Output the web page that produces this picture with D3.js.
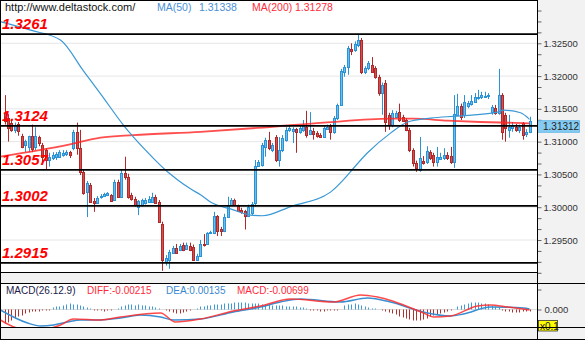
<!DOCTYPE html>
<html><head><meta charset="utf-8">
<script src="https://cdn.jsdelivr.net/npm/d3@7"></script>
<style>
html,body{margin:0;padding:0;background:#fff;}
svg{display:block;font-family:"Liberation Sans",Arial,sans-serif;}
</style></head><body>
<svg id="c" width="585" height="340"></svg>
<script>
// ---------- DATA ----------
const opens=[1.3144,1.3136,1.3129,1.3118,1.3127,1.3109,1.3095,1.3092,1.3109,1.3092,
1.3107,1.3095,1.3087,1.3072,1.3075,1.3077,1.3077,1.3080,1.3081,1.3084,
1.3090,1.3115,1.3090,1.3054,1.3023,1.3034,1.3010,1.3007,1.3016,1.3017,
1.3019,1.3019,1.3011,1.3039,1.3016,1.3052,1.3046,1.3019,1.3013,1.3001,
1.3004,1.3007,1.3008,1.3008,1.3016,1.3008,1.2975,1.2917,1.2920,1.2930,
1.2938,1.2935,1.2943,1.2937,1.2941,1.2940,1.2920,1.2926,1.2944,1.2944,
1.2961,1.2961,1.2987,1.2967,1.2964,1.2985,1.3004,1.3011,1.3002,1.2996,
1.2994,1.2987,1.2991,1.3007,1.3063,1.3065,1.3092,1.3103,1.3087,1.3107,
1.3072,1.3087,1.3103,1.3118,1.3116,1.3119,1.3115,1.3118,1.3122,1.3112,
1.3116,1.3113,1.3110,1.3107,1.3119,1.3124,1.3115,1.3136,1.3156,1.3206,
1.3214,1.3241,1.3240,1.3247,1.3255,1.3206,1.3212,1.3217,1.3212,1.3199,
1.3174,1.3190,1.3141,1.3126,1.3138,1.3145,1.3138,1.3133,1.3118,1.3087,
1.3068,1.3057,1.3071,1.3069,1.3084,1.3080,1.3069,1.3074,1.3075,1.3080,
1.3078,1.3069,1.3141,1.3155,1.3141,1.3155,1.3158,1.3161,1.3167,1.3168,
1.3168,1.3170,1.3145,1.3151,1.3144,1.3171,1.3141,1.3118,1.3121,1.3122,
1.3118,1.3129,1.3112,1.3115];
const highs=[1.3171,1.3142,1.3133,1.3129,1.3130,1.3112,1.3103,1.3109,1.3126,1.3122,
1.3109,1.3098,1.3090,1.3083,1.3084,1.3084,1.3087,1.3087,1.3087,1.3086,
1.3118,1.3129,1.3118,1.3057,1.3040,1.3037,1.3014,1.3017,1.3020,1.3022,
1.3023,1.3020,1.3042,1.3042,1.3057,1.3077,1.3051,1.3022,1.3016,1.3011,
1.3013,1.3014,1.3017,1.3022,1.3019,1.3011,1.2978,1.2927,1.2935,1.2941,
1.2944,1.2944,1.2946,1.2946,1.2946,1.2943,1.2929,1.2950,1.2959,1.2962,
1.2964,1.2993,1.2988,1.2970,1.2990,1.3016,1.3014,1.3013,1.3004,1.2999,
1.2996,1.3004,1.3008,1.3072,1.3072,1.3098,1.3106,1.3115,1.3098,1.3110,
1.3107,1.3110,1.3122,1.3124,1.3122,1.3121,1.3124,1.3133,1.3147,1.3145,
1.3121,1.3116,1.3113,1.3124,1.3126,1.3127,1.3139,1.3158,1.3211,1.3217,
1.3246,1.3250,1.3253,1.3264,1.3258,1.3215,1.3223,1.3229,1.3215,1.3202,
1.3190,1.3194,1.3144,1.3148,1.3147,1.3158,1.3141,1.3136,1.3121,1.3090,
1.3071,1.3107,1.3078,1.3093,1.3087,1.3083,1.3092,1.3083,1.3090,1.3084,
1.3092,1.3171,1.3173,1.3158,1.3171,1.3162,1.3171,1.3174,1.3179,1.3176,
1.3176,1.3174,1.3156,1.3156,1.3211,1.3174,1.3144,1.3141,1.3130,1.3127,
1.3126,1.3130,1.3119,1.3138];
const lows=[1.3126,1.3100,1.3115,1.3113,1.3109,1.3090,1.3084,1.3084,1.3084,1.3087,
1.3093,1.3068,1.3057,1.3062,1.3072,1.3072,1.3075,1.3077,1.3078,1.3075,
1.3087,1.3080,1.3049,1.3019,1.2985,1.3007,1.2993,1.3005,1.3013,1.3016,
1.3017,1.3008,1.3010,1.3014,1.3014,1.3042,1.3013,1.3010,1.3001,1.2988,
1.3001,1.3004,1.3007,1.3007,1.3005,1.2976,1.2903,1.2911,1.2906,1.2929,
1.2929,1.2933,1.2933,1.2935,1.2933,1.2918,1.2918,1.2924,1.2940,1.2943,
1.2959,1.2959,1.2956,1.2956,1.2962,1.2984,1.3002,1.3002,1.2993,1.2990,
1.2966,1.2985,1.2988,1.3001,1.3062,1.3062,1.3077,1.3087,1.3084,1.3069,
1.3062,1.3084,1.3100,1.3115,1.3098,1.3083,1.3112,1.3115,1.3106,1.3110,
1.3103,1.3106,1.3106,1.3106,1.3118,1.3103,1.3112,1.3133,1.3155,1.3199,
1.3202,1.3232,1.3237,1.3244,1.3203,1.3203,1.3209,1.3205,1.3196,1.3170,
1.3141,1.3115,1.3118,1.3122,1.3136,1.3130,1.3130,1.3116,1.3084,1.3062,
1.3054,1.3054,1.3065,1.3066,1.3072,1.3062,1.3062,1.3072,1.3072,1.3072,
1.3066,1.3060,1.3139,1.3133,1.3136,1.3151,1.3155,1.3159,1.3164,1.3165,
1.3167,1.3165,1.3141,1.3141,1.3141,1.3103,1.3100,1.3106,1.3115,1.3115,
1.3113,1.3103,1.3107,1.3113];
const closes=[1.3132,1.3121,1.3118,1.3126,1.3116,1.3092,1.3101,1.3109,1.3089,1.3109,
1.3098,1.3077,1.3072,1.3077,1.3080,1.3081,1.3084,1.3083,1.3084,1.3080,
1.3115,1.3090,1.3054,1.3022,1.3037,1.3008,1.3007,1.3014,1.3017,1.3020,
1.3022,1.3010,1.3039,1.3016,1.3052,1.3046,1.3016,1.3013,1.3004,1.3010,
1.3011,1.3011,1.3013,1.3016,1.3007,1.2978,1.2920,1.2923,1.2932,1.2938,
1.2930,1.2941,1.2935,1.2943,1.2935,1.2920,1.2926,1.2944,1.2943,1.2961,
1.2962,1.2987,1.2964,1.2964,1.2985,1.3004,1.3011,1.3004,1.2994,1.2993,
1.2987,1.3001,1.3005,1.3063,1.3069,1.3095,1.3103,1.3090,1.3095,1.3072,
1.3087,1.3106,1.3118,1.3121,1.3119,1.3115,1.3121,1.3126,1.3110,1.3118,
1.3112,1.3109,1.3107,1.3121,1.3122,1.3115,1.3136,1.3156,1.3208,1.3214,
1.3243,1.3238,1.3249,1.3255,1.3206,1.3212,1.3220,1.3206,1.3199,1.3174,
1.3187,1.3130,1.3126,1.3144,1.3144,1.3133,1.3132,1.3118,1.3087,1.3068,
1.3060,1.3075,1.3068,1.3086,1.3075,1.3069,1.3077,1.3077,1.3080,1.3075,
1.3069,1.3142,1.3155,1.3138,1.3161,1.3159,1.3162,1.3168,1.3168,1.3171,
1.3170,1.3171,1.3153,1.3144,1.3171,1.3115,1.3121,1.3122,1.3126,1.3118,
1.3122,1.3110,1.3115,1.31312];

const ma50Idx=[-1.2,7.6,16.3,23.0,28.0,34.7,37.6,41.1,47.5,50.4,54.2,57.1,60.0,66.7,71.7,75.2,83.4,95.0,98.8,100.8,105.8,112.5,117.5,124.2,132.0,143.7,145.4,150.4,153];
const ma50=[1.3283,1.3270,1.3255,1.3208,1.3173,1.3125,1.3107,1.3087,1.3054,1.3042,1.3028,1.3019,1.3008,1.2996,1.2988,1.2987,1.3001,1.3023,1.3042,1.3054,1.3083,1.3113,1.3130,1.3136,1.3139,1.3145,1.3148,1.3144,1.3134];
const ma200Idx=[-1.2,18.4,28.0,37.6,57.1,73.7,93.0,112.5,119.2,129.1,138.7,153];
const ma200=[1.3077,1.3095,1.3106,1.3110,1.3115,1.3121,1.3129,1.3135,1.3135,1.3132,1.3130,1.3128];

const levelPrices=[1.3264,1.3124,1.3057,1.3002,1.2915];
const levelLabels=["1.3261","1.3124","1.3057","1.3002","1.2915"];

const majorTicks=[1.295,1.300,1.305,1.310,1.315,1.320,1.325];
const majorLabels=["1.29500","1.30000","1.30500","1.31000","1.31500","1.32000","1.32500"];
const lastPriceLabel="1.31312";

const macdHist=[-0.0028,-0.0026,-0.0022,-0.0018,
-0.0014,-0.0012,-0.0008,-0.0006,-0.0004,-0.0004,
-0.0004,-0.0002,-0.0002,-0.0002,
0.0004,0.0006,0.0006,0.0008,0.0010,0.0012,0.0010,0.0010,0.0008,0.0006,
0.0004,0.0002,-0.0002,-0.0002,
-0.0002,-0.0004,-0.0002,-0.0002,0,
0.0002,
0.0006,0.0008,0.0010,0.0010,0.0008,0.0010,0.0008,0.0008,0.0006,0.0006,0.0004,
0.0002,0,-0.0002,
-0.0004,-0.0006,-0.0008,-0.0008,-0.0006,-0.0004,
-0.0002,0,0.0002,
0.0006,0.0006,0.0008,0.0008,0.0010,0.0010,0.0010,0.0012,0.0012,0.0012,0.0014,0.0014,0.0014,0.0014,0.0012,0.0012,0.0012,0.0012,0.0010,0.0010,0.0010,0.0008,0.0008,0.0008,0.0008,0.0006,0.0006,0.0006,0.0006,0.0004,
0.0004,0.0002,
-0.0002,-0.0002,-0.0002,-0.0004,-0.0004,-0.0002,-0.0002,-0.0002,-0.0002,
0,
0.0008,0.0010,0.0010,0.0012,0.0010,
0.0008,0.0006,0.0004,0.0002,0.0002,
0,-0.0002,
-0.0004,-0.0006,-0.0008,-0.0010,-0.0014,-0.0016,-0.0018,-0.0020,-0.0022,-0.0022,-0.0022,
-0.0020,-0.0018,-0.0014,-0.0012,-0.0010,-0.0008,-0.0006,-0.0004,
-0.0002,0,
0.0006,0.0008,0.0010,0.0012,0.0014,0.0014,0.0014,0.0012,0.0012,0.0010,0.0008,0.0006,0.0004,
-0.0002,-0.0004,-0.0004,-0.0006,-0.0006,-0.0006,-0.0004,-0.0004,-0.0004];
const deaIdx=[-1.2,6.7,10.5,14.3,18.4,22.2,28.0,33.8,39.6,45.5,49.3,57.1,66.7,74.6,80.4,86.3,97.9,105.8,112.5,122.1,130.0,133.8,141.6,151.3,153];
const dea=[-0.0001,-0.0027,-0.0033,-0.0031,-0.0025,-0.0021,-0.0021,-0.0017,-0.0011,-0.0015,-0.0021,-0.0019,-0.0005,0.0005,0.0015,0.0021,0.0015,0.0023,0.0015,-0.0005,-0.0013,-0.0009,0.0005,0.0003,0.0001];
const diffIdx=[-1.2,3.8,10.5,16.3,20.1,28.0,33.8,45.5,49.8,57.1,66.7,74.6,83.4,95.9,103.8,108.7,122.1,125.0,130.0,137.9,141.6,146.6,153];
const diff=[-0.0021,-0.0037,-0.0041,-0.0031,-0.0019,-0.0021,-0.0015,-0.0007,-0.0025,-0.0019,-0.0003,0.0007,0.0021,0.0015,0.0029,0.0025,-0.0007,-0.0015,-0.0013,0.0007,0.0009,0.0005,-0.0001];
const macdTicks=[0,0.004];
const macdTickLabels=["0.000",""];

// ---------- LAYOUT ----------
const svg=d3.select('#c');
const PR=537.5; // plot right
const N=opens.length;
const x=d3.scaleLinear().domain([0,N-1]).range([4.5,529.5]);
const y=d3.scaleLinear().domain([1.295,1.325]).range([240,43.3]);
const ym=d3.scaleLinear().domain([-0.0035,0.0053]).range([327,283]);

const defs=svg.append('defs');
defs.append('clipPath').attr('id','cm').append('rect').attr('x',0).attr('y',1).attr('width',PR).attr('height',271.5);
defs.append('clipPath').attr('id','cd').append('rect').attr('x',0).attr('y',284).attr('width',PR).attr('height',43);

svg.append('rect').attr('x',0).attr('y',0).attr('width',585).attr('height',340).attr('fill','#fff');
svg.append('rect').attr('x',PR).attr('y',0).attr('width',585-PR).attr('height',340).attr('fill','#f2f2f2');
svg.append('rect').attr('x',0).attr('y',273).attr('width',PR).attr('height',10).attr('fill','#f2f2f2');
svg.append('rect').attr('x',0).attr('y',328).attr('width',PR).attr('height',11).attr('fill','#f2f2f2');

// gridlines
const gm=svg.append('g').attr('clip-path','url(#cm)');
gm.selectAll('line.grid').data(majorTicks).join('line').attr('class','grid')
  .attr('x1',0).attr('x2',PR).attr('y1',d=>y(d)).attr('y2',d=>y(d))
  .attr('stroke','#e6e6e6').attr('stroke-width',1);

// candles
const upStroke='#2a93d5', upFill='#6cbcec', dnStroke='#b02828', dnFill='#d35050';
const cd=d3.range(N).map(i=>({i,o:opens[i],h:highs[i],l:lows[i],c:closes[i],up:closes[i]>=opens[i]}));
const cg=gm.append('g');
cg.selectAll('line.wick').data(cd).join('line').attr('class','wick')
  .attr('x1',d=>Math.round(x(d.i))+0.5).attr('x2',d=>Math.round(x(d.i))+0.5)
  .attr('y1',d=>y(d.h)).attr('y2',d=>y(d.l))
  .attr('stroke',d=>d.up?upStroke:dnStroke).attr('stroke-width',1);
cg.selectAll('rect.body').data(cd).join('rect').attr('class','body')
  .attr('x',d=>Math.round(x(d.i))-0.5)
  .attr('y',d=>Math.round(y(Math.max(d.o,d.c)))+0.5)
  .attr('width',2)
  .attr('height',d=>Math.max(1,Math.round(y(Math.min(d.o,d.c)))-Math.round(y(Math.max(d.o,d.c)))))
  .attr('fill',d=>d.up?upFill:dnFill).attr('stroke',d=>d.up?upStroke:dnStroke).attr('stroke-width',1);

// moving averages
const lineMa=d3.line().x(d=>x(d[0])).y(d=>y(d[1])).curve(d3.curveMonotoneX);
gm.append('path').datum(ma200Idx.map((v,k)=>[v,ma200[k]])).attr('d',lineMa)
  .attr('fill','none').attr('stroke','#ff2222').attr('stroke-width',1.8).attr('stroke-opacity',0.8);
gm.append('path').datum(ma50Idx.map((v,k)=>[v,ma50[k]])).attr('d',lineMa)
  .attr('fill','none').attr('stroke','#3a98d6').attr('stroke-width',1.2);

// level lines
gm.selectAll('line.lvl').data(levelPrices).join('line').attr('class','lvl')
  .attr('x1',0).attr('x2',PR).attr('y1',d=>y(d)).attr('y2',d=>y(d))
  .attr('stroke','#000').attr('stroke-width',1.8);
gm.selectAll('text.lvl').data(levelPrices).join('text').attr('class','lvl')
  .attr('x',2).attr('y',d=>y(d)-5).text((d,k)=>levelLabels[k])
  .attr('fill','#ff0000').attr('font-size','15px').attr('font-weight','bold').attr('font-style','italic');

// main right axis
const minorTicks=d3.range(0,26).map(k=>+(1.29+k*0.005/3).toFixed(6));
const ax=d3.axisRight(y).tickValues(minorTicks).tickSize(4).tickPadding(2)
  .tickFormat(d=>{const k=majorTicks.findIndex(m=>Math.abs(m-d)<1e-7);return k>=0?majorLabels[k]:'';});
const axg=svg.append('g').attr('transform',`translate(${PR},0)`).call(ax);
axg.select('.domain').remove();
axg.selectAll('line').attr('stroke','#666');
axg.selectAll('text').attr('fill','#333').attr('font-size','9.5px').attr('font-family','"Liberation Sans",Arial,sans-serif');
axg.selectAll('.tick').filter(d=>y(d)<0||y(d)>273).remove();

// last price box
const lp=closes[N-1];
svg.append('rect').attr('x',PR).attr('y',y(lp)-0.5).attr('width',42).attr('height',11.6)
  .attr('fill','#86cbf2').attr('stroke','#5eb3e6').attr('stroke-width',0.8);
svg.append('text').attr('x',543).attr('y',y(lp)+9).text(lastPriceLabel)
  .attr('fill','#222').attr('font-size','10px');

// header
svg.append('text').attr('x',5).attr('y',11).text('http://www.deltastock.com/').attr('fill','#111').attr('font-size','11px');
const hdr=[['MA(50)',157,'#4a90d6'],['1.31338',199,'#4a90d6'],['MA(200)',252,'#ff2a3a'],['1.31278',295,'#ff2a3a']];
svg.selectAll('text.hdr').data(hdr).join('text').attr('class','hdr')
  .attr('x',d=>d[1]).attr('y',11).text(d=>d[0]).attr('fill',d=>d[2]).attr('font-size','10.5px');

// MACD panel
const gd=svg.append('g').attr('clip-path','url(#cd)');
gd.append('line').attr('x1',0).attr('x2',PR).attr('y1',ym(0)).attr('y2',ym(0)).attr('stroke','#dcdcdc');
gd.selectAll('line.hist').data(macdHist).join('line').attr('class','hist')
  .attr('x1',(d,i)=>Math.round(x(i))+0.5).attr('x2',(d,i)=>Math.round(x(i))+0.5)
  .attr('y1',ym(0)).attr('y2',d=>ym(d))
  .attr('stroke',d=>d>=0?'#3d9ad8':'#b03030').attr('stroke-width',1);
const lineM=d3.line().x(d=>x(d[0])).y(d=>ym(d[1])).curve(d3.curveMonotoneX);
gd.append('path').datum(deaIdx.map((v,k)=>[v,dea[k]])).attr('d',lineM)
  .attr('fill','none').attr('stroke','#3a8fd2').attr('stroke-width',1.5);
gd.append('path').datum(diffIdx.map((v,k)=>[v,diff[k]])).attr('d',lineM)
  .attr('fill','none').attr('stroke','#ff2a2a').attr('stroke-width',1.5).attr('stroke-opacity',0.85);

const mt=[['MACD(26.12.9)',6,'#20204a'],['DIFF:-0.00215',87,'#ff2a3a'],['DEA:0.00135',166,'#3a88d0'],['MACD:-0.00699',237,'#ff2a3a']];
svg.selectAll('text.mt').data(mt).join('text').attr('class','mt')
  .attr('x',d=>d[1]).attr('y',293.5).text(d=>d[0]).attr('fill',d=>d[2]).attr('font-size','10px');

const axm=d3.axisRight(ym).tickValues(macdTicks).tickSize(4).tickPadding(3)
  .tickFormat((d,k)=>macdTickLabels[k]);
const amg=svg.append('g').attr('transform',`translate(${PR},0)`).call(axm);
amg.select('.domain').remove();
amg.selectAll('line').attr('stroke','#666');
amg.selectAll('text').attr('fill','#333').attr('font-size','9.5px').attr('font-family','"Liberation Sans",Arial,sans-serif');

svg.append('rect').attr('x',538.5).attr('y',320.5).attr('width',19).attr('height',10.5)
  .attr('fill','#ffff00').attr('stroke','#333').attr('stroke-width',0.8);
svg.append('text').attr('x',540).attr('y',329.5).text('x0.1').attr('fill','#222').attr('font-size','10px');

// borders
const border=[[0,0.5,PR,0.5],[0,272.5,PR,272.5],[0,283.5,585,283.5],[0,327.5,585,327.5],[0,339.5,585,339.5],[PR,0,PR,340],[0.5,0,0.5,340]];
svg.selectAll('line.bd').data(border).join('line').attr('class','bd')
  .attr('x1',d=>d[0]).attr('y1',d=>d[1]).attr('x2',d=>d[2]).attr('y2',d=>d[3])
  .attr('stroke','#000').attr('stroke-width',1);
</script>
</body></html>
